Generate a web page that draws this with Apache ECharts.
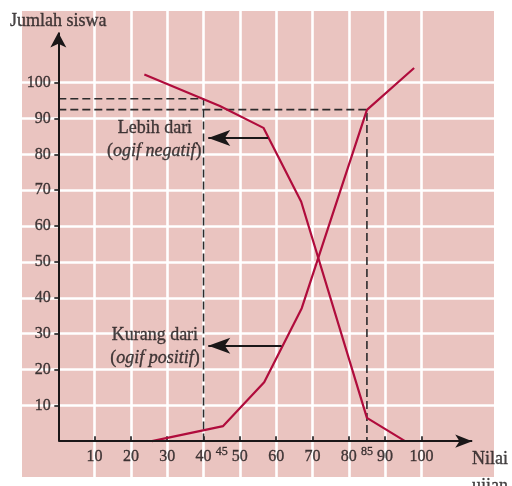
<!DOCTYPE html>
<html>
<head>
<meta charset="utf-8">
<script src="https://cdn.jsdelivr.net/npm/echarts@6/dist/echarts.min.js"></script>
<style>
html,body{margin:0;padding:0;background:#fff;}
#c{width:512px;height:486px;}
</style>
</head>
<body>
<div id="c"></div>
<script>
// Data
const tickValues = [10, 20, 30, 40, 50, 60, 70, 80, 90, 100];
const negX = [23.7, 44.5, 56.5, 66.9, 85, 95.5];
const negY = [102.3, 93.5, 87.4, 66.8, 6.5, 0];
const posX = [25.8, 45.4, 56.7, 67.05, 85, 98];
const posY = [0, 4.2, 16.4, 37.1, 92.4, 104.1];
const dash40 = [[0, 95.5], [40, 95.5], [40, 0]];
const dash85 = [[0, 92.5], [85, 92.5], [85, 0]];
const extraXLabels = [45, 85];

const FONT = '"Liberation Serif", "DejaVu Serif", serif';
const INK = '#1a1718';
const CURVE = '#b00c3c';

const chart = echarts.init(document.getElementById('c'));

function pairs(xs, ys) { return xs.map((x, i) => [x, ys[i]]); }

const hiddenDot = { symbol: 'circle', symbolSize: 1, itemStyle: { color: 'rgba(0,0,0,0)' }, silent: true, type: 'scatter' };
const txt = { color: INK, fontFamily: FONT, textBorderColor: INK, textBorderWidth: 0.35 };

chart.setOption({
  animation: false,
  backgroundColor: '#ffffff',
  grid: {
    left: 22, top: 11, width: 472, height: 466,
    containLabel: false, outerBoundsMode: 'none',
    show: true, backgroundColor: '#eac4c0', borderWidth: 0
  },
  xAxis: {
    type: 'value', min: -10, max: 120, interval: 10,
    axisLine: { show: true, onZero: true, lineStyle: { color: 'rgba(0,0,0,0)' } },
    axisTick: { show: true, inside: true, length: 5, customValues: tickValues, lineStyle: { color: INK, width: 1.6 } },
    axisLabel: { show: false },
    splitLine: { show: true, lineStyle: { color: '#ffffff', width: 2.6 } }
  },
  yAxis: {
    type: 'value', min: -10, max: 120, interval: 10,
    axisLine: { show: true, onZero: true, lineStyle: { color: 'rgba(0,0,0,0)' } },
    axisTick: { show: true, inside: false, length: 4, customValues: tickValues, lineStyle: { color: INK, width: 1.6 } },
    axisLabel: { show: false },
    splitLine: { show: true, lineStyle: { color: '#ffffff', width: 2.6 } }
  },
  series: [
    {
      type: 'line', data: dash40, symbol: 'none', silent: true,
      lineStyle: { color: '#2c2a2b', width: 1.6, type: [8, 4] }
    },
    {
      type: 'line', data: dash85, symbol: 'none', silent: true,
      lineStyle: { color: '#2c2a2b', width: 1.6, type: [8, 4] }
    },
    {
      type: 'line', data: pairs(negX, negY), symbol: 'none',
      lineStyle: { color: CURVE, width: 2.2 }
    },
    {
      type: 'line', data: pairs(posX, posY), symbol: 'none',
      lineStyle: { color: CURVE, width: 2.2 }
    },
    {
      // axes and annotation arrows
      type: 'line', data: [], symbol: 'none',
      markLine: {
        silent: true, animation: false,
        symbol: ['none', 'arrow'],
        label: { show: false },
        lineStyle: { color: INK, width: 2, type: 'solid' },
        data: [
          [{ coord: [0, 0], symbol: 'none' }, { coord: [114, 0], symbolSize: [10, 17] }],
          [{ coord: [0, 0], symbol: 'none' }, { coord: [0, 114], symbolSize: [12, 15] }],
          [{ coord: [57.8, 84.6], symbol: 'none' }, { coord: [41.3, 84.6], symbolSize: [12, 22] }],
          [{ coord: [61.5, 26.6], symbol: 'none' }, { coord: [41.3, 26.6], symbolSize: [12, 22] }]
        ]
      }
    },
    Object.assign({}, hiddenDot, {
      // x tick labels
      data: tickValues.map(v => [v, 0]),
      label: Object.assign({ show: true, position: 'bottom', distance: 7, formatter: p => String(p.value[0]), fontSize: 16 }, txt)
    }),
    Object.assign({}, hiddenDot, {
      // y tick labels
      data: tickValues.map(v => [0, v]),
      label: Object.assign({ show: true, position: 'left', distance: 7, formatter: p => String(p.value[1]), fontSize: 16 }, txt)
    }),
    Object.assign({}, hiddenDot, {
      data: extraXLabels.map(v => ({ value: [v, -3.1], name: String(v) })),
      label: Object.assign({ show: true, position: 'inside', formatter: p => p.name, fontSize: 12 }, txt)
    }),
    Object.assign({}, hiddenDot, {
      // annotations and axis titles
      data: [
        { value: [26.6, 87.3], name: 'Lebih dari' },
        { value: [26.4, 81.0], name: '({i|ogif negatif})' },
        { value: [26.6, 29.6], name: 'Kurang dari' },
        { value: [26.6, 23.1], name: '({i|ogif positif})' },
        { value: [0, 117.1], name: 'Jumlah siswa' }
      ],
      label: Object.assign({
        show: true, position: 'inside', formatter: p => p.name, fontSize: 18,
        rich: { i: Object.assign({ fontStyle: 'italic', fontSize: 18 }, txt) }
      }, txt)
    }),
    Object.assign({}, hiddenDot, {
      data: [{ value: [114.5, -4.6], name: 'Nilai\nujian' }],
      label: Object.assign({
        show: true, position: 'inside', align: 'left', verticalAlign: 'top', offset: [-2, -12],
        formatter: p => p.name, lineHeight: 27, fontSize: 18
      }, txt)
    })
  ]
});
</script>
</body>
</html>
